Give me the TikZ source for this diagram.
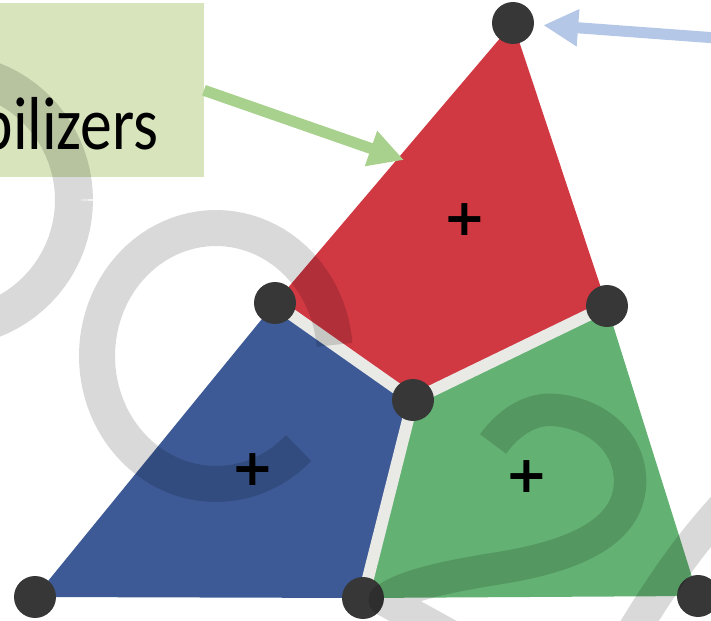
\documentclass[tikz,border=0pt]{standalone}
\usepackage{fontspec}
\usepackage{graphicx}
\setmainfont{Carlito}
\newfontfamily\plusfont{DejaVu Sans}
\usetikzlibrary{arrows.meta}
\definecolor{regred}{RGB}{208,56,66}
\definecolor{regblue}{RGB}{61,90,150}
\definecolor{reggreen}{RGB}{99,178,115}
\definecolor{dotgray}{RGB}{55,55,55}
\definecolor{gapgray}{RGB}{233,233,230}
\definecolor{boxgreen}{RGB}{216,228,188}
\definecolor{arrgreen}{RGB}{169,209,142}
\definecolor{arrblue}{RGB}{180,199,231}
\begin{document}
\begin{tikzpicture}[x=0.02cm,y=-0.02cm,
  vdot/.style={circle,fill=dotgray,minimum size=23.9pt,inner sep=0pt},
  gap/.style={draw=gapgray,line width=6.8pt,line cap=round},
  plussign/.style={font=\plusfont\bfseries\fontsize{29}{29}\selectfont,inner sep=0pt},
  wm/.style={draw=black,draw opacity=0.15,line cap=butt,line join=round},
  callout/.style={line width=6.3pt,-{Triangle[length=19.9pt,width=19.9pt]}},
  labelbox/.style={fill=boxgreen,inner sep=0pt,minimum width=121.8pt,minimum height=99pt}
]
\useasboundingbox (0,0) rectangle (711,621);
\clip (0,0) rectangle (711,621);
% vertex positions
\coordinate (pT) at (513,23);
\coordinate (pL) at (275,303);
\coordinate (pR) at (607,306);
\coordinate (pC) at (413,400);
\coordinate (pBL) at (35,597);
\coordinate (pBM) at (363,598);
\coordinate (pBR) at (698,596);
% regions
\fill[regred] (pT) -- (pR) -- (pC) -- (pL) -- cycle;
\fill[regblue] (pL) -- (pC) -- (pBM) -- (pBL) -- cycle;
\fill[reggreen] (pC) -- (pR) -- (pBR) -- (pBM) -- cycle;
% gaps
\draw[gap] (pL) -- (pC);
\draw[gap] (pC) -- (pR);
\draw[gap] (pC) -- (pBM);
% vertices
\node[vdot] (T) at (pT) {};
\node[vdot] (L) at (pL) {};
\node[vdot] (R) at (pR) {};
\node[vdot] (C) at (pC) {};
\node[vdot] (BL) at (pBL) {};
\node[vdot] (BM) at (pBM) {};
\node[vdot] (BR) at (pBR) {};
% plus signs
\node[plussign] (pr) at (465,220) {+};
\node[plussign] (pb) at (253,470) {+};
\node[plussign] (pg) at (527,477) {+};
% label box
\node[labelbox,anchor=north east] (box) at (204,3) {};
\node[anchor=base east,inner sep=0pt,font=\fontsize{42.7}{46}\selectfont] (lbl) at (159,150) {\scalebox{0.85}[1]{bilizers}};
% arrows
\coordinate (gtip) at (404,160);
\draw[callout,arrgreen] (box.east) -- (gtip);
\coordinate (bstart) at (730,39);
\draw[callout,arrblue,shorten >=5.1pt] (bstart) -- (T);
% watermark strokes
\draw[wm,line width=21.6pt] plot[domain=0:360,samples=90,variable=\t] ({-54+128*cos(\t)},{200+128*sin(\t)});
\draw[wm,line width=20.5pt] plot[domain=-5:-314,samples=90,variable=\t] ({216+119*cos(\t)},{356+128*sin(\t)});
\draw[wm,line width=18.5pt] (493,444) .. controls (512,418) and (535,408) .. (555,410) .. controls (600,414) and (632,445) .. (630,485) .. controls (627,530) and (580,555) .. (500,568) .. controls (450,576) and (405,585) .. (385,600) -- (570,702);
\draw[wm,line width=18.5pt] (625,645) .. controls (655,595) and (690,540) .. (740,490);
\end{tikzpicture}
\end{document}
